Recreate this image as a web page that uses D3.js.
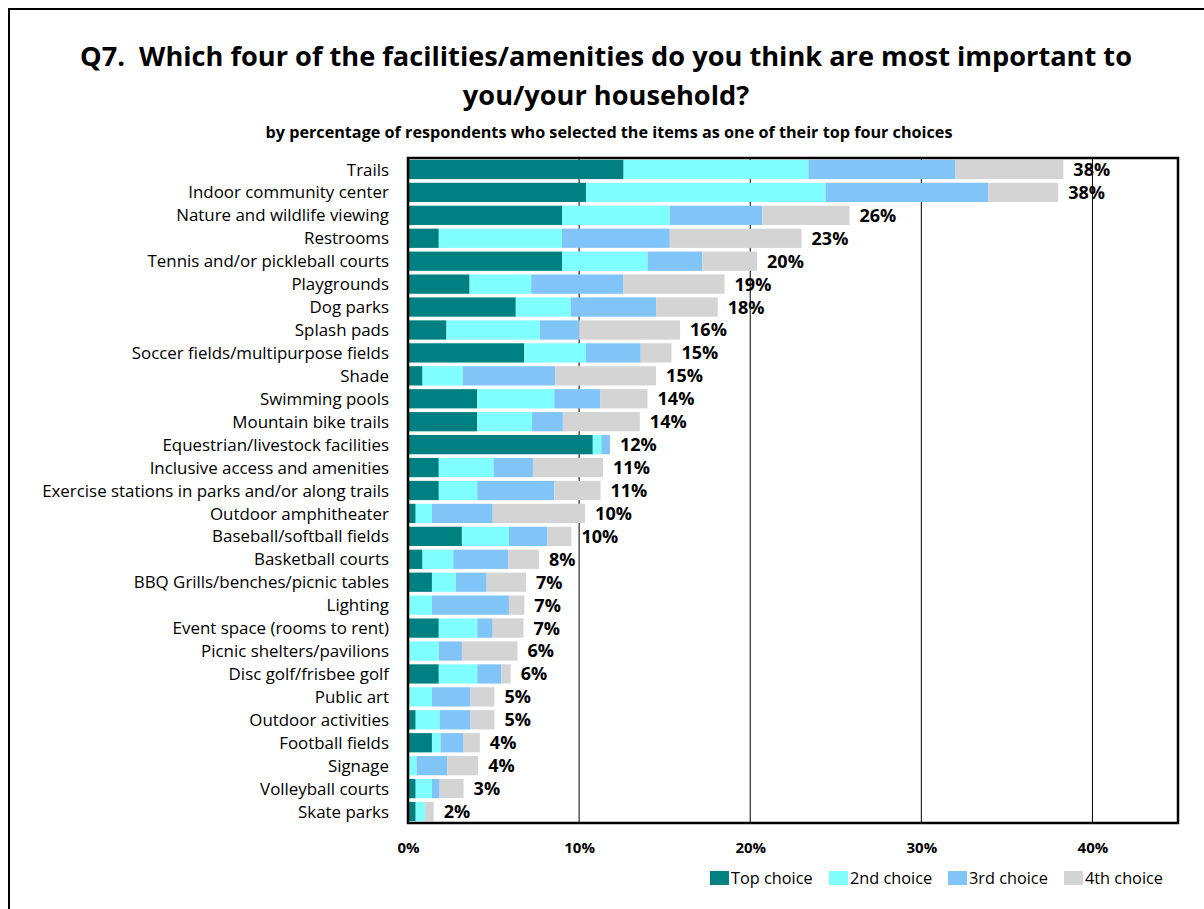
<!DOCTYPE html>
<html>
<head>
<meta charset="utf-8">
<script src="https://cdn.jsdelivr.net/npm/d3@7"></script>
<style>
  html, body { margin: 0; padding: 0; background: #fff; }
  svg { display: block; }
  .title { white-space: pre; }
</style>
</head>
<body>
<svg id="chart" width="1204" height="909"></svg>
<script>
// Facilities/amenities ranked by combined share of top-four selections
const categories = [
  "Trails", "Indoor community center", "Nature and wildlife viewing", "Restrooms",
  "Tennis and/or pickleball courts", "Playgrounds", "Dog parks", "Splash pads",
  "Soccer fields/multipurpose fields", "Shade", "Swimming pools", "Mountain bike trails",
  "Equestrian/livestock facilities", "Inclusive access and amenities",
  "Exercise stations in parks and/or along trails", "Outdoor amphitheater",
  "Baseball/softball fields", "Basketball courts", "BBQ Grills/benches/picnic tables",
  "Lighting", "Event space (rooms to rent)", "Picnic shelters/pavilions",
  "Disc golf/frisbee golf", "Public art", "Outdoor activities", "Football fields",
  "Signage", "Volleyball courts", "Skate parks"
];

// Percent of respondents choosing each item as 1st, 2nd, 3rd, 4th choice
const topChoice    = [12.6, 10.4, 9.0, 1.8, 9.0, 3.6, 6.3, 2.25, 6.8, 0.85, 4.05, 4.05, 10.8, 1.8, 1.8, 0.45, 3.15, 0.85, 1.4, 0.0, 1.8, 0.0, 1.8, 0.0, 0.45, 1.4, 0.0, 0.45, 0.45];
const secondChoice = [10.8, 14.0, 6.3, 7.2, 5.0, 3.6, 3.2, 5.45, 3.6, 2.35, 4.5, 3.2, 0.5, 3.2, 2.25, 0.95, 2.75, 1.8, 1.4, 1.4, 2.25, 1.8, 2.25, 1.4, 1.4, 0.5, 0.5, 0.95, 0.55];
const thirdChoice  = [8.6, 9.5, 5.4, 6.3, 3.2, 5.4, 5.0, 2.3, 3.2, 5.4, 2.7, 1.8, 0.5, 2.3, 4.5, 3.55, 2.25, 3.2, 1.8, 4.5, 0.9, 1.35, 1.4, 2.25, 1.8, 1.35, 1.8, 0.45, 0.0];
const fourthChoice = [6.3, 4.1, 5.1, 7.7, 3.2, 5.9, 3.6, 5.9, 1.8, 5.9, 2.75, 4.5, 0.0, 4.1, 2.7, 5.4, 1.4, 1.8, 2.3, 0.9, 1.8, 3.25, 0.55, 1.4, 1.4, 0.95, 1.8, 1.4, 0.5];

// Total labels printed at the end of each bar
const totalLabels = ["38%", "38%", "26%", "23%", "20%", "19%", "18%", "16%", "15%", "15%", "14%", "14%", "12%", "11%", "11%", "10%", "10%", "8%", "7%", "7%", "7%", "6%", "6%", "5%", "5%", "4%", "4%", "3%", "2%"];

const seriesNames = ["Top choice", "2nd choice", "3rd choice", "4th choice"];
const seriesKeys = ["top", "second", "third", "fourth"];
const seriesColors = ["#008080", "#80FFFF", "#80C4F8", "#D4D4D4"];

const xTicks = [0, 10, 20, 30, 40];

const rows = categories.map((c, i) => ({
  name: c,
  top: topChoice[i], second: secondChoice[i], third: thirdChoice[i], fourth: fourthChoice[i],
  label: totalLabels[i]
}));

const svg = d3.select("#chart");
const font = "'Open Sans', sans-serif";

// outer frame
svg.append("rect")
  .attr("x", 9).attr("y", 9).attr("width", 1204).attr("height", 909)
  .attr("fill", "none").attr("stroke", "#000").attr("stroke-width", 2);

// title
const title = svg.append("text")
  .attr("class", "title")
  .attr("text-anchor", "middle")
  .attr("font-family", font).attr("font-weight", "bold")
  .attr("font-size", 27.2).attr("fill", "#000");
title.append("tspan").attr("x", 606).attr("y", 66)
  .text("Q7.  Which four of the facilities/amenities do you think are most important to");
title.append("tspan").attr("x", 606).attr("y", 105)
  .text("you/your household?");

svg.append("text")
  .attr("x", 609).attr("y", 138).attr("text-anchor", "middle")
  .attr("font-family", font).attr("font-weight", "bold").attr("font-size", 16.2)
  .text("by percentage of respondents who selected the items as one of their top four choices");

const plot = { left: 408, right: 1178, top: 158, bottom: 823 };

const x = d3.scaleLinear().domain([0, 45]).range([plot.left, plot.right]);
const y = d3.scaleBand().domain(categories).range([plot.top, plot.bottom]).paddingInner(0.16).paddingOuter(0.08);

// vertical gridlines
svg.append("g").selectAll("line")
  .data(xTicks.slice(1))
  .join("line")
  .attr("x1", d => x(d)).attr("x2", d => x(d))
  .attr("y1", plot.top).attr("y2", plot.bottom)
  .attr("stroke", "#000").attr("stroke-width", 1);

// stacked bars
const stack = d3.stack().keys(seriesKeys);
const layers = stack(rows);

svg.append("g").selectAll("g")
  .data(layers)
  .join("g")
  .attr("fill", (d, i) => seriesColors[i])
  .selectAll("rect")
  .data(d => d)
  .join("rect")
  .attr("x", d => x(d[0]))
  .attr("width", d => Math.max(0, x(d[1]) - x(d[0])))
  .attr("y", d => y(d.data.name))
  .attr("height", y.bandwidth());

// value labels
svg.append("g").selectAll("text")
  .data(layers[layers.length - 1])
  .join("text")
  .attr("x", d => x(d[1]) + 10)
  .attr("y", d => y(d.data.name) + y.bandwidth() / 2)
  .attr("dy", "0.36em")
  .attr("font-family", font).attr("font-weight", "bold").attr("font-size", 18)
  .text(d => d.data.label);

// category labels
svg.append("g").selectAll("text")
  .data(categories)
  .join("text")
  .attr("x", 389)
  .attr("y", d => y(d) + y.bandwidth() / 2)
  .attr("dy", "0.36em")
  .attr("text-anchor", "end")
  .attr("font-family", font).attr("font-size", 16.9)
  .text(d => d);

// plot frame
svg.append("rect")
  .attr("x", plot.left).attr("y", plot.top)
  .attr("width", plot.right - plot.left).attr("height", plot.bottom - plot.top)
  .attr("fill", "none").attr("stroke", "#000").attr("stroke-width", 2.5);

// x axis labels
const xAxis = d3.axisBottom(x).tickValues(xTicks).tickFormat(d => d + "%").tickSize(0).tickPadding(0);
const gx = svg.append("g").attr("transform", `translate(0,${plot.bottom})`).call(xAxis);
gx.select(".domain").remove();
gx.selectAll("text")
  .attr("y", 19).attr("dy", "0.71em")
  .attr("font-family", font).attr("font-weight", "bold").attr("font-size", 15).attr("fill", "#000");

// legend
const legendX = [710, 829, 948, 1064];
const lg = svg.append("g").selectAll("g")
  .data(seriesNames)
  .join("g")
  .attr("transform", (d, i) => `translate(${legendX[i]},871)`);
lg.append("rect").attr("width", 19).attr("height", 14).attr("fill", (d, i) => seriesColors[i]);
lg.append("text")
  .attr("x", 21).attr("y", 7).attr("dy", "0.36em")
  .attr("font-family", font).attr("font-size", 16.3).attr("fill", "#000")
  .text(d => d);
</script>
</body>
</html>
